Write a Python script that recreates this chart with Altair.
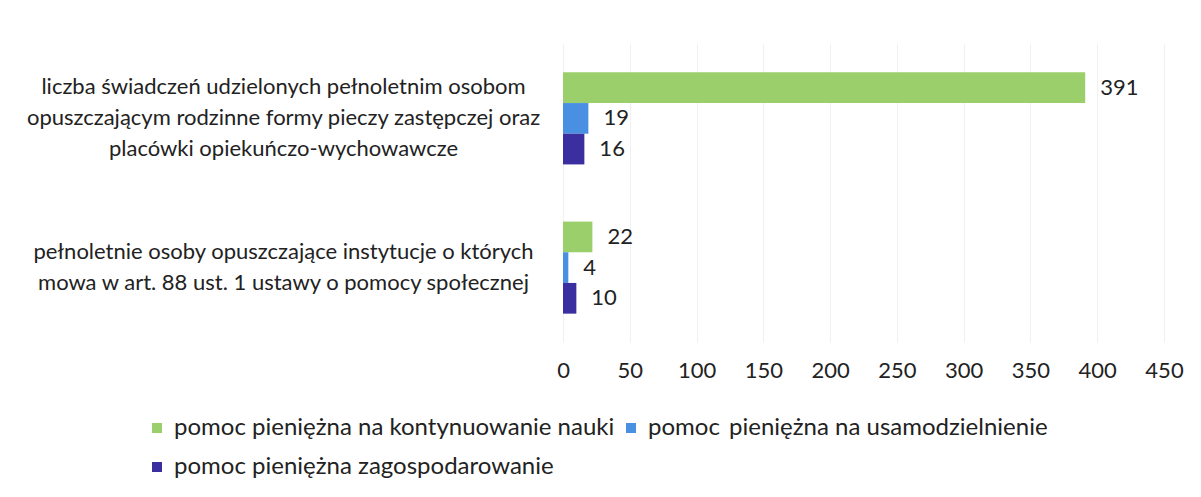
import altair as alt
import pandas as pd

categories = [
    "liczba świadczeń udzielonych pełnoletnim osobom|opuszczającym rodzinne formy pieczy zastępczej oraz|placówki opiekuńczo-wychowawcze",
    "pełnoletnie osoby opuszczające instytucje o których|mowa w art. 88 ust. 1 ustawy o pomocy społecznej",
]
series = [
    "pomoc pieniężna na kontynuowanie nauki",
    "pomoc\u2009 pieniężna na usamodzielnienie",
    "pomoc pieniężna zagospodarowanie",
]
values_nauki = [391, 22]
values_usamodzielnienie = [19, 4]
values_zagospodarowanie = [16, 10]
colors = ["#9bcf6b", "#4a90e2", "#3b2fa0"]
x_ticks = [0, 50, 100, 150, 200, 250, 300, 350, 400, 450]

rows = []
for s, vals in zip(series, [values_nauki, values_usamodzielnienie, values_zagospodarowanie]):
    for c, v in zip(categories, vals):
        rows.append({"category": c, "series": s, "value": v})
df = pd.DataFrame(rows)

FONT = "Lato"
FS = 22
TXT = "#222222"
LH = 31

base = alt.Chart(df).encode(
    y=alt.Y(
        "category:N",
        sort=categories,
        scale=alt.Scale(paddingInner=0.383, paddingOuter=0.19),
        axis=alt.Axis(
            title=None,
            labelExpr="split(datum.label, '|')",
            labelAlign="center",
            labelBaseline="middle",
            labelPadding=280,
            ticks=False,
            domain=False,
            labelFontSize=FS,
            labelLineHeight=LH,
            labelColor=TXT,
            labelFont=FONT,
            labelLimit=0,
            labelOffset={
                "condition": {"test": "indexof(datum.value, 'liczba') == 0", "value": -LH},
                "value": -LH / 2,
            },
        ),
    ),
    yOffset=alt.YOffset(
        "series:N", sort=series, scale=alt.Scale(paddingInner=0, paddingOuter=0)
    ),
)

bars = base.mark_bar().encode(
    x=alt.X(
        "value:Q",
        scale=alt.Scale(domain=[0, 450], nice=False),
        axis=alt.Axis(
            values=x_ticks,
            title=None,
            grid=True,
            gridColor="#f0f0f0",
            domain=False,
            ticks=False,
            labelFlush=False,
            labelPadding=18,
            labelFontSize=FS,
            labelFont=FONT,
            labelColor=TXT,
        ),
    ),
    color=alt.Color(
        "series:N",
        sort=series,
        scale=alt.Scale(domain=series, range=colors),
        legend=alt.Legend(
            orient="none",
            legendX=-418,
            legendY=372,
            columns=2,
            direction="horizontal",
            title=None,
            symbolType="square",
            symbolSize=100,
            symbolStrokeWidth=0,
            labelFontSize=24,
            labelFont=FONT,
            labelColor=TXT,
            labelLimit=0,
            rowPadding=15,
            columnPadding=4,
            labelOffset=5,
        ),
    ),
)

text = base.mark_text(
    align="left", baseline="middle", dx=15, fontSize=FS, font=FONT, color=TXT
).encode(x=alt.X("value:Q"), text=alt.Text("value:Q"))

chart = (
    alt.layer(bars, text)
    .properties(
        width=601,
        height=298,
        autosize=alt.AutoSizeParams(type="none"),
        padding={"left": 555, "top": 36, "right": 29, "bottom": 147},
        background="white",
    )
    .configure_view(stroke=None)
)

chart.save("out.html", embed_options={"renderer": "svg", "actions": False})
